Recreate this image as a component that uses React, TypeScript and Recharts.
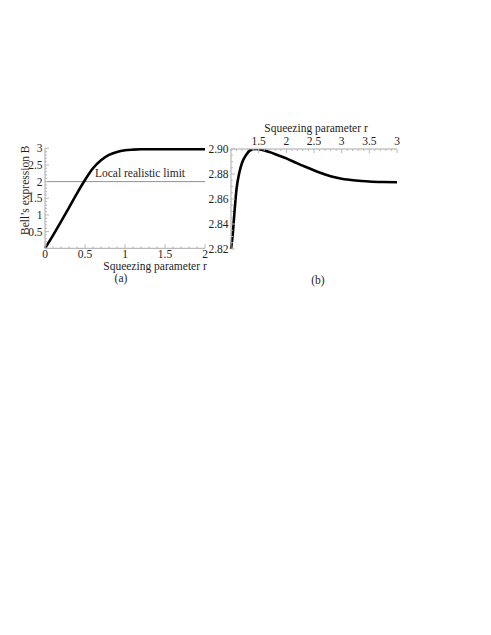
import React from "react";
import { LineChart, Line, XAxis, YAxis, ReferenceLine } from "recharts";

// panel (a): full range
const rA = [0, 0.1, 0.2, 0.3, 0.4, 0.5, 0.6, 0.7, 0.8, 0.9, 1.0, 1.1, 1.2, 1.3, 1.4, 1.5, 1.6, 1.7, 1.8, 1.9, 2.0];
const bellA = [0, 0.39, 0.8, 1.22, 1.65, 2.05, 2.4, 2.64, 2.8, 2.89, 2.94, 2.96, 2.97, 2.97, 2.97, 2.97, 2.97, 2.97, 2.97, 2.97, 2.97];

// panel (b): zoom on the maximum
const rB = [1.0, 1.03, 1.06, 1.1, 1.15, 1.2, 1.27, 1.35, 1.45, 1.55, 1.7, 1.85, 2.0, 2.2, 2.4, 2.6, 2.8, 3.0, 3.25, 3.5, 3.75, 4.0];
const bellB = [2.82, 2.831, 2.848, 2.868, 2.881, 2.889, 2.895, 2.899, 2.9, 2.8995, 2.8975, 2.895, 2.8925, 2.8885, 2.8848, 2.8812, 2.8782, 2.8762, 2.8748, 2.874, 2.8736, 2.8734];

const aXTicks = [0, 0.5, 1, 1.5, 2];
const aXLabels = ["0", "0.5", "1", "1.5", "2"];
const aYTicks = [0.5, 1, 1.5, 2, 2.5, 3];
const aYLabels = ["0.5", "1", "1.5", "2", "2.5", "3"];
const bXTicks = [1.5, 2, 2.5, 3, 3.5, 4];
const bXLabels = ["1.5", "2", "2.5", "3", "3.5", "3"];
const bYTicks = [2.82, 2.84, 2.86, 2.88, 2.9];
const bYLabels = ["2.82", "2.84", "2.86", "2.88", "2.90"];
const localLimit = 2;

const dataA = rA.map((r, i) => ({ r, B: bellA[i] }));
const dataB = rB.map((r, i) => ({ r, B: bellB[i] }));

const FONT = "'Liberation Serif', 'Times New Roman', serif";
const AXIS = "#a8a8a8";
const TICK = "#b8b8b8";
const INK = "#1e1e1e";

function minorTicks(lo: number, hi: number, step: number) {
  const out: number[] = [];
  for (let v = lo; v <= hi + 1e-9; v += step) out.push(+v.toFixed(4));
  return out;
}

// inward Mathematica-style ticks, label only on the majors
function makeTick(side: "left" | "bottom" | "top", majors: number[], labels: string[]) {
  return (p: any) => {
    const { x, y } = p;
    const v = p.payload.value;
    const i = majors.findIndex((m) => Math.abs(m - v) < 1e-6);
    const len = i >= 0 ? 4 : 2;
    if (side === "left") {
      return (
        <g>
          <line x1={x} x2={x + len} y1={y} y2={y} stroke={TICK} />
          {i >= 0 && (
            <text x={x - 2.5} y={y} dy="0.35em" textAnchor="end" fill={INK} fontSize={11.5} fontFamily={FONT}>
              {labels[i]}
            </text>
          )}
        </g>
      );
    }
    const dir = side === "bottom" ? -1 : 1;
    return (
      <g>
        <line x1={x} x2={x} y1={y} y2={y + dir * len} stroke={TICK} />
        {i >= 0 && (
          <text x={x} y={side === "bottom" ? y + 10 : y - 4.5} textAnchor="middle" fill={INK} fontSize={11.5} fontFamily={FONT}>
            {labels[i]}
          </text>
        )}
      </g>
    );
  };
}

function PanelA() {
  return (
    <LineChart width={240} height={180} data={dataA} margin={{ top: 28.3, right: 35, bottom: 21.7, left: 0 }}>
      <XAxis
        dataKey="r" type="number" domain={[0, 2]} ticks={minorTicks(0, 2, 0.1)} interval={0}
        height={30} tickSize={0} tickMargin={0} tickLine={false}
        axisLine={{ stroke: AXIS }} tick={makeTick("bottom", aXTicks, aXLabels)}
        label={{ value: "Squeezing parameter r", position: "center", dx: 30, dy: 2.5, fill: INK, fontSize: 11.5 }}
      />
      <YAxis
        type="number" domain={[0, 3]} ticks={minorTicks(0, 3, 0.1)} interval={0}
        width={45} tickSize={0} tickMargin={0} tickLine={false}
        axisLine={{ stroke: AXIS }} tick={makeTick("left", aYTicks, aYLabels)}
        label={{ value: "Bell\u2019s expression B", position: "center", angle: -90, dx: 2.5, dy: -8, fill: INK, fontSize: 11.5 }}
      />
      <ReferenceLine
        y={localLimit} stroke="#8f8f8f" strokeWidth={1}
        label={{ value: "Local realistic limit", position: "center", dx: 15, dy: -8.5, fill: INK, fontSize: 11.5 }}
      />
      <Line type="monotone" dataKey="B" stroke="#000" strokeWidth={2.6} dot={false} isAnimationActive={false} />
    </LineChart>
  );
}

function PanelB() {
  return (
    <LineChart width={220} height={170} data={dataB} margin={{ top: 9, right: 23, bottom: 21, left: 0 }}>
      <XAxis
        dataKey="r" type="number" orientation="top" domain={[1, 4]} ticks={minorTicks(1, 4, 0.1)} interval={0}
        height={40} tickSize={0} tickMargin={0} tickLine={false}
        axisLine={{ stroke: AXIS }} tick={makeTick("top", bXTicks, bXLabels)}
        label={{ value: "Squeezing parameter r", position: "center", dx: 2, dy: -1, fill: INK, fontSize: 11.5 }}
      />
      <YAxis
        type="number" domain={[2.82, 2.9]} allowDataOverflow ticks={minorTicks(2.82, 2.9, 0.005)} interval={0}
        width={31} tickSize={0} tickMargin={0} tickLine={false}
        axisLine={{ stroke: AXIS }} tick={makeTick("left", bYTicks, bYLabels)}
      />
      <Line type="monotone" dataKey="B" stroke="#000" strokeWidth={2.6} dot={false} isAnimationActive={false} />
    </LineChart>
  );
}

export default function App() {
  return (
    <div style={{ position: "absolute", left: 0, top: 0, width: 491, height: 635, background: "#fff", fontFamily: FONT, fontSize: 11.5, color: INK }}>
      <div style={{ position: "absolute", left: 0, top: 120 }}>
        <PanelA />
      </div>
      <div style={{ position: "absolute", left: 200, top: 100 }}>
        <PanelB />
      </div>
      <div style={{ position: "absolute", left: 101, top: 271, width: 40, lineHeight: "14px", textAlign: "center" }}>(a)</div>
      <div style={{ position: "absolute", left: 298, top: 273, width: 40, lineHeight: "14px", textAlign: "center" }}>(b)</div>
    </div>
  );
}
